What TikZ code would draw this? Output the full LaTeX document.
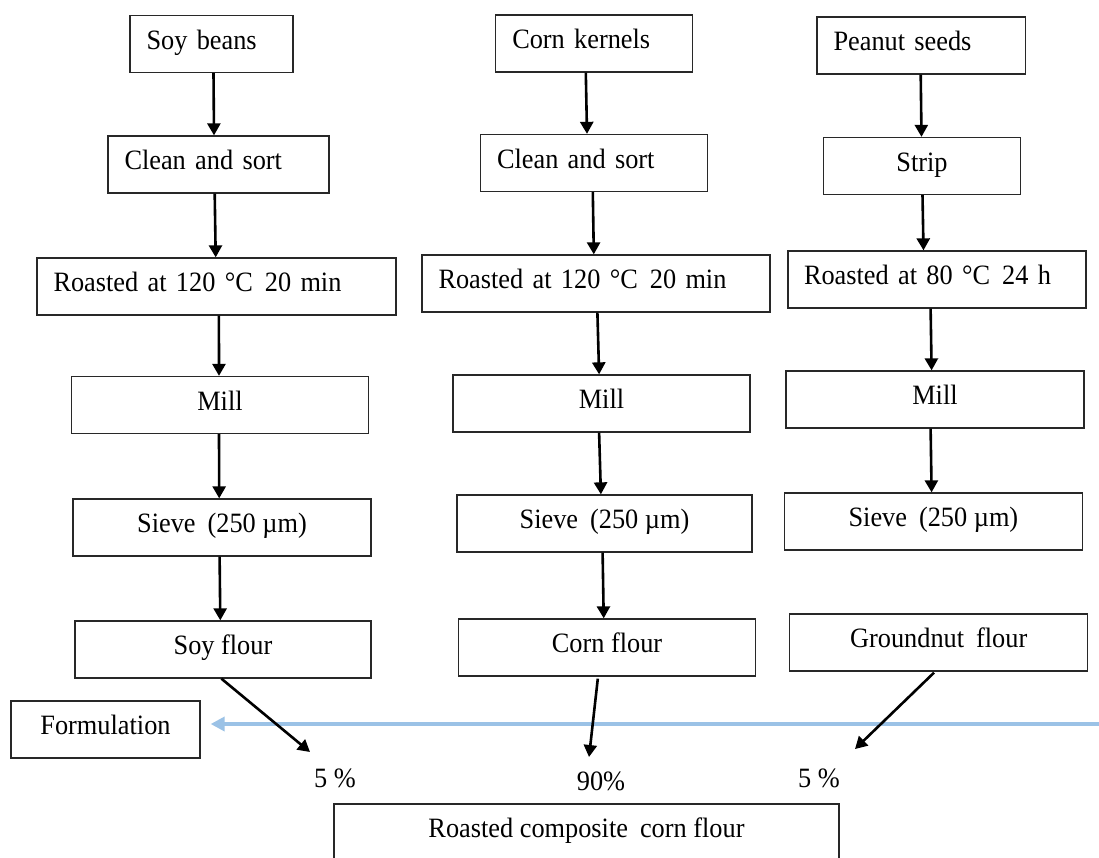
\documentclass[tikz,border=0pt]{standalone}
\usepackage{fontspec}
\setmainfont{Liberation Serif}[FakeStretch=0.94]
\usetikzlibrary{arrows.meta,calc}
\definecolor{lblue}{RGB}{155,194,230}
\definecolor{boxline}{RGB}{40,40,40}
\newcommand\wsp{\hspace{12pt}}
\begin{document}
\begin{tikzpicture}[x=1pt,y=-1pt,
  font=\fontsize{28pt}{31pt}\selectfont,
  box/.style={draw=boxline, line width=1.3pt, rectangle, minimum height=57pt,
    text height=20pt, text depth=10pt, inner ysep=0pt, inner xsep=0pt, align=center},
  lbox/.style={box, inner xsep=16.5pt, align=left},
  arr/.style={-{Triangle[length=12pt,width=13pt]}, line width=2.6pt, black},
  barr/.style={-{Triangle[length=14pt,width=14pt]}, line width=3.4pt, lblue},
  pct/.style={anchor=base, inner sep=0pt}]
\clip (0,0) rectangle (1099,857);
\fill[white] (0,0) rectangle (1099,857);
% soy column
\node[lbox, text width=130pt] (sb) at (211.5,44) {Soy beans};
\node[lbox, text width=188pt] (sc) at (218.5,164.5) {Clean and sort};
\node[lbox, text width=326pt] (sr) at (216.5,286.5) {Roasted at 120 °C\wsp 20 min};
\node[box, minimum width=297pt] (sm) at (220,405) {Mill};
\node[box, minimum width=298pt] (ss) at (222,527.5) {Sieve\wsp(250 µm)};
\node[box, minimum width=296pt] (sf) at (223,649.5) {Soy flour};
% corn column
\node[lbox, text width=163.5pt] (cb) at (594,43.5) {Corn kernels};
\node[lbox, text width=194pt] (cc) at (594,163) {Clean and sort};
\node[lbox, text width=315pt] (cr) at (596,283.5) {Roasted at 120 °C\wsp 20 min};
\node[box, minimum width=297pt] (cm) at (601.5,403.5) {Mill};
\node[box, minimum width=295pt] (cs) at (604.5,523.5) {Sieve\wsp(250 µm)};
\node[box, minimum width=297pt] (cf) at (607,647.5) {Corn flour};
% peanut column
\node[lbox, text width=175.6pt] (pb) at (921.3,45.5) {Peanut seeds};
\node[box, minimum width=197pt] (pc) at (922,166) {Strip};
\node[lbox, inner xsep=16pt, text width=266pt] (pr) at (937,279.5) {Roasted at 80 °C\wsp 24 h};
\node[box, minimum width=298pt] (pm) at (935,399.5) {Mill};
\node[box, minimum width=298pt] (ps) at (933.4,521.5) {Sieve\wsp(250 µm)};
\node[box, minimum width=298pt] (pf) at (938.7,642.5) {Groundnut\wsp flour};
% formulation and result
\node[box, minimum width=189pt] (fm) at (105.5,729.5) {Formulation};
\node[box, minimum width=505pt] (rc) at (586.5,832.5) {Roasted composite\wsp corn flour};
\node[pct] (p1) at (335,787) {5 \%};
\node[pct] (p2) at (601,790) {90\%};
\node[pct] (p3) at (819,787) {5 \%};
% blue arrow
\coordinate (bl) at (1099,724);
\draw[barr] (bl) -- ($(fm.east)+(10,-5.5)$);
% soy arrows
\draw[arr] ($(sb.south)+(2,0)$) -- ($(sc.north)+(-4.5,0)$);
\draw[arr] ($(sc.south)+(-3.8,0)$) -- ($(sr.north)+(-0.8,0)$);
\draw[arr] ($(sr.south)+(2.4,0)$) -- ($(sm.north)+(-1,0)$);
\draw[arr] ($(sm.south)+(-1,0)$) -- ($(ss.north)+(-2.8,0)$);
\draw[arr] ($(ss.south)+(-2.4,0)$) -- ($(sf.north)+(-2.7,0)$);
% corn arrows
\draw[arr] ($(cb.south)+(-8.2,0)$) -- ($(cc.north)+(-7,0)$);
\draw[arr] ($(cc.south)+(-1.2,0)$) -- ($(cr.north)+(-2.2,0)$);
\draw[arr] ($(cr.south)+(1.4,0)$) -- ($(cm.north)+(-2.4,0)$);
\draw[arr] ($(cm.south)+(-2.4,0)$) -- ($(cs.north)+(-3.6,0)$);
\draw[arr] ($(cs.south)+(-1.9,0)$) -- ($(cf.north)+(-3.3,0)$);
% peanut arrows
\draw[arr] ($(pb.south)+(-0.6,0)$) -- ($(pc.north)+(-0.5,0)$);
\draw[arr] ($(pc.south)+(0.5,0)$) -- ($(pr.north)+(-13.5,0)$);
\draw[arr] ($(pr.south)+(-6.4,0)$) -- ($(pm.north)+(-3.4,0)$);
\draw[arr] ($(pm.south)+(-4.4,0)$) -- ($(ps.north)+(-1.8,0)$);
% flour to formulation arrows
\coordinate (e1) at (310,752);
\coordinate (e2) at (589,757);
\coordinate (e3) at (855,749);
\draw[arr] ($(sf.south)+(-1.6,0)$) -- (e1);
\draw[arr] ($(cf.south)+(-9.2,2)$) -- (e2);
\draw[arr] ($(pf.south)+(-4.7,1)$) -- (e3);
\end{tikzpicture}
\end{document}
